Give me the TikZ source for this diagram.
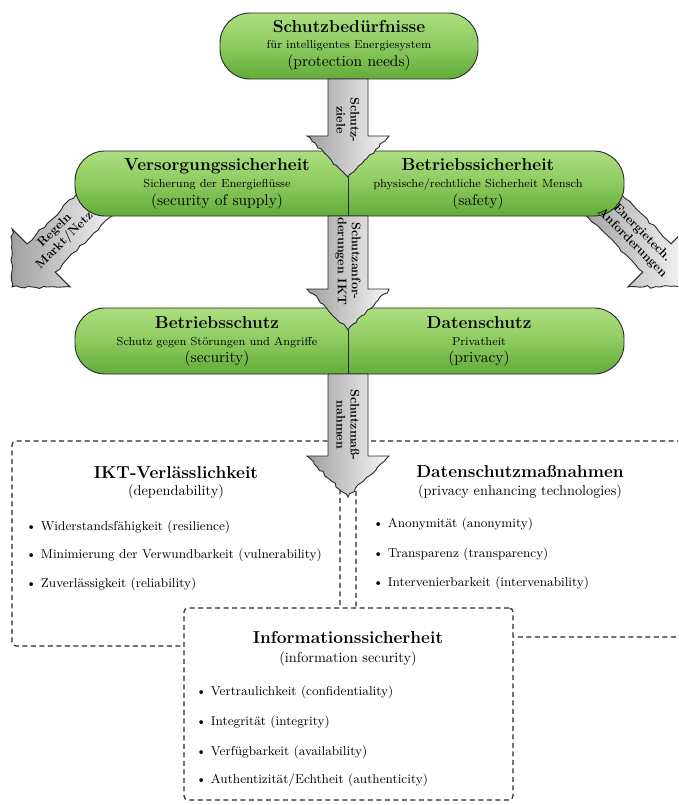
\documentclass[tikz,border=0pt]{standalone}
\usetikzlibrary{calc}
\definecolor{pillTop}{RGB}{172,222,128}
\definecolor{pillMid}{RGB}{140,202,95}
\definecolor{pillBot}{RGB}{98,172,58}
\definecolor{arrDark}{RGB}{160,160,160}
\definecolor{arrLight}{RGB}{246,246,246}
\definecolor{lineC}{RGB}{40,40,40}
\newcommand\sz[3]{\scalebox{#1}{\fontsize{#2}{#2}\selectfont #3}}
\tikzset{
  pill/.style={draw=lineC, line width=0.9pt, rounded corners=30pt, top color=pillTop, bottom color=pillBot, middle color=pillMid, inner sep=0pt, outer sep=0pt},
  ttl/.style={font=\fontsize{17.3}{20}\selectfont\bfseries, anchor=base, inner sep=0pt},
  txt/.style={anchor=base, inner sep=0pt},
  item/.style={anchor=base west, inner sep=0pt},
  dbox/.style={draw=lineC, line width=1.2pt, dash pattern=on 5pt off 3.5pt, rounded corners=4pt, inner sep=0pt, outer sep=0pt},
  arrowbody/.style={draw=lineC, line width=0.9pt, left color=arrDark, right color=arrLight},
  albl/.style={font=\fontsize{12.5}{14}\selectfont\bfseries, align=center, inner sep=0pt},
  divider/.style={draw=lineC, line width=0.8pt},
}
\newcommand\subt[1]{\sz{1.45}{8}{#1}}
\newcommand\pparen[1]{\sz{1.55}{10}{#1}}
\newcommand\bparen[1]{\sz{1.43}{10}{#1}}
\newcommand\itm[1]{\sz{1.43}{9}{\textbullet\ #1}}
\pgfmathsetseed{4711}
\newcommand\jag[2]{\foreach \j in {1,...,14} { -- ($(#1)!{\j/15}!(#2)+({1.3*rand},{1.3*rand})$) } -- (#2)}
% vertical block arrow: name, x, top, tip
\newcommand\varrow[4]{%
  \coordinate (#1-a) at ({#2-20},{#3});
  \coordinate (#1-b) at ({#2-20},{#4-41});
  \coordinate (#1-c) at ({#2-41},{#4-41});
  \coordinate (#1-t) at ({#2},{#4});
  \coordinate (#1-d) at ({#2+41},{#4-41});
  \coordinate (#1-e) at ({#2+20},{#4-41});
  \coordinate (#1-f) at ({#2+20},{#3});
  \shadedraw[arrowbody] (#1-a) -- (#1-b) -- (#1-c) \jag{#1-c}{#1-t} \jag{#1-t}{#1-d} -- (#1-e) -- (#1-f) -- cycle;}
% diagonal block arrow (local frame, pointing down): name
\newcommand\darrow[1]{%
  \coordinate (#1-a) at (-20,0);
  \coordinate (#1-b) at (-20,89);
  \coordinate (#1-c) at (-41,89);
  \coordinate (#1-t) at (0,130);
  \coordinate (#1-d) at (41,89);
  \coordinate (#1-e) at (20,89);
  \coordinate (#1-f) at (20,0);
  \shadedraw[arrowbody] (#1-a) \jag{#1-a}{#1-b} -- (#1-c) \jag{#1-c}{#1-t} \jag{#1-t}{#1-d} -- (#1-e) \jag{#1-e}{#1-f} -- cycle;}
\begin{document}
\begin{tikzpicture}[x=1pt,y=-1pt]
\useasboundingbox (0,0) rectangle (678,805);
\clip (0,0) rectangle (678,805);

% dashed boxes
\node[dbox, minimum width=328pt, minimum height=205pt, anchor=north west] (dep) at (12,441) {};
\node[dbox, minimum width=364pt, minimum height=196pt, anchor=north west] (pet) at (356,441) {};
\node[dbox, fill=white, minimum width=329pt, minimum height=192pt, anchor=north west] (info) at (184,608) {};

% diagonal arrows
\begin{scope}[shift={(104,195)}, rotate=-45]
  \darrow{dl}
\end{scope}
\begin{scope}[shift={(594,195)}, rotate=45]
  \darrow{dr}
\end{scope}

% pills
\node[pill, minimum width=258pt, minimum height=66pt] (p1) at (349,46) {};
\node[pill, minimum width=549pt, minimum height=65pt] (p2) at (349.5,183.5) {};
\node[pill, minimum width=549pt, minimum height=66pt] (p3) at (349.5,341) {};
\coordinate (d2a) at (348,177); \coordinate (d2b) at (348,216);
\coordinate (d3a) at (348,330); \coordinate (d3b) at (348,374);
\draw[divider] (d2a) -- (d2b);
\draw[divider] (d3a) -- (d3b);

% vertical arrows
\varrow{a1}{348}{79}{177}
\varrow{a2}{348}{216}{330}
\varrow{a3}{348}{374}{497}

% arrow labels
\node[albl, rotate=-90] (l1) at (348,120) {Schutz-\\ziele};
\node[albl, rotate=-90] (l2) at (348,261) {Schutzanfor-\\derungen IKT};
\node[albl, rotate=-90] (l3) at (348,425) {Schutzmaß-\\nahmen};
\node[albl, rotate=45] (l4) at (60,236) {Regeln\\Markt/Netz};
\node[albl, rotate=-45] (l5) at (637,238) {Energietech.\\Anforderungen};

% pill 1 text
\node[ttl] (t1) at (349,33) {Schutzbedürfnisse};
\node[txt] (s1) at (349,49) {\subt{für intelligentes Energiesystem}};
\node[txt] (q1) at (349,67) {\pparen{(protection needs)}};
% pill 2 text
\node[ttl] (t2l) at (217,171) {Versorgungssicherheit};
\node[txt] (s2l) at (217,188) {\subt{Sicherung der Energieflüsse}};
\node[txt] (q2l) at (217,205) {\pparen{(security of supply)}};
\node[ttl] (t2r) at (478,171) {Betriebssicherheit};
\node[txt] (s2r) at (478,188) {\subt{physische/rechtliche Sicherheit Mensch}};
\node[txt] (q2r) at (478,205) {\pparen{(safety)}};
% pill 3 text
\node[ttl] (t3l) at (217,328) {Betriebsschutz};
\node[txt] (s3l) at (217,345) {\subt{Schutz gegen Störungen und Angriffe}};
\node[txt] (q3l) at (217,362) {\pparen{(security)}};
\node[ttl] (t3r) at (479,328) {Datenschutz};
\node[txt] (s3r) at (479,345) {\subt{Privatheit}};
\node[txt] (q3r) at (479,362) {\pparen{(privacy)}};

% left box
\node[ttl] (bt1) at (176,478) {IKT-Verlässlichkeit};
\node[txt] (bp1) at (176,495) {\bparen{(dependability)}};
\node[item] (i11) at (26,530) {\itm{Widerstandsfähigkeit (resilience)}};
\node[item] (i12) at (26,558) {\itm{Minimierung der Verwundbarkeit (vulnerability)}};
\node[item] (i13) at (26,587) {\itm{Zuverlässigkeit (reliability)}};
% right box
\node[ttl] (bt2) at (520,477) {Datenschutzmaßnahmen};
\node[txt] (bp2) at (520,495) {\bparen{(privacy enhancing technologies)}};
\node[item] (i21) at (373,527) {\itm{Anonymität (anonymity)}};
\node[item] (i22) at (373,557) {\itm{Transparenz (transparency)}};
\node[item] (i23) at (373,586) {\itm{Intervenierbarkeit (intervenability)}};
% info box
\node[ttl] (bt3) at (348,643) {Informationssicherheit};
\node[txt] (bp3) at (348,662) {\bparen{(information security)}};
\node[item] (i31) at (196,695) {\itm{Vertraulichkeit (confidentiality)}};
\node[item] (i32) at (196,725) {\itm{Integrität (integrity)}};
\node[item] (i33) at (196,755) {\itm{Verfügbarkeit (availability)}};
\node[item] (i34) at (196,783) {\itm{Authentizität/Echtheit (authenticity)}};
\end{tikzpicture}
\end{document}
